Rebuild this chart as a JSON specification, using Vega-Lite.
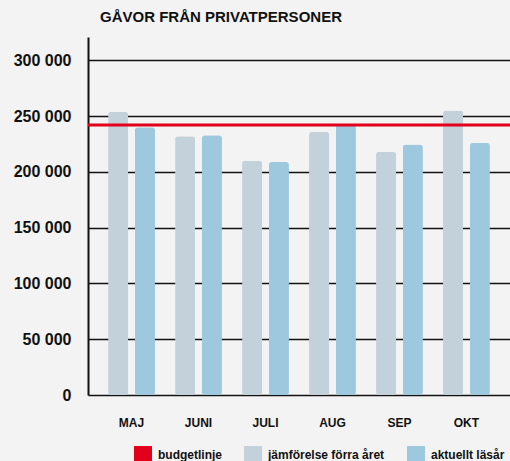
{
  "$schema": "https://vega.github.io/schema/vega-lite/v6.json",
  "width": 422,
  "height": 358,
  "autosize": {"type": "none"},
  "padding": {"left": 88, "top": 37, "right": 0, "bottom": 66},
  "background": "#f3f3f3",
  "title": {
    "text": "GÅVOR FRÅN PRIVATPERSONER",
    "anchor": "start",
    "frame": "group",
    "dx": 12,
    "offset": 12,
    "font": "Liberation Sans",
    "fontSize": 15,
    "fontWeight": "bold",
    "color": "#111111"
  },
  "config": {
    "view": {"stroke": null},
    "locale": {"number": {"decimal": ",", "thousands": " ", "grouping": [3], "currency": ["", " kr"]}},
    "font": "Liberation Sans"
  },
  "datasets": {
    "bars": [
      {"month": "MAJ", "serie": "jämförelse förra året", "value": 254000},
      {"month": "MAJ", "serie": "aktuellt läsår", "value": 240000},
      {"month": "JUNI", "serie": "jämförelse förra året", "value": 232000},
      {"month": "JUNI", "serie": "aktuellt läsår", "value": 233000},
      {"month": "JULI", "serie": "jämförelse förra året", "value": 210000},
      {"month": "JULI", "serie": "aktuellt läsår", "value": 209000},
      {"month": "AUG", "serie": "jämförelse förra året", "value": 236000},
      {"month": "AUG", "serie": "aktuellt läsår", "value": 242500},
      {"month": "SEP", "serie": "jämförelse förra året", "value": 218000},
      {"month": "SEP", "serie": "aktuellt läsår", "value": 224500},
      {"month": "OKT", "serie": "jämförelse förra året", "value": 255000},
      {"month": "OKT", "serie": "aktuellt läsår", "value": 226000}
    ],
    "budget": [{"label": "budgetlinje", "value": 242000}]
  },
  "layer": [
    {
      "data": {"name": "bars"},
      "mark": {"type": "bar", "cornerRadius": 3},
      "encoding": {
        "x": {
          "field": "month",
          "type": "nominal",
          "sort": ["MAJ", "JUNI", "JULI", "AUG", "SEP", "OKT"],
          "scale": {"paddingInner": 0.3, "paddingOuter": 0.3},
          "axis": {
            "title": null,
            "domain": false,
            "ticks": false,
            "labelAngle": 0,
            "labelPadding": 22,
            "labelFont": "Liberation Sans",
            "labelFontSize": 12,
            "labelFontWeight": "bold",
            "labelColor": "#111111"
          }
        },
        "xOffset": {
          "field": "serie",
          "type": "nominal",
          "sort": ["jämförelse förra året", "aktuellt läsår"],
          "scale": {"paddingInner": 0.25}
        },
        "y": {
          "field": "value",
          "type": "quantitative",
          "scale": {"domain": [0, 321000], "nice": false},
          "axis": {
            "title": null,
            "values": [0, 50000, 100000, 150000, 200000, 250000, 300000],
            "format": ",d",
            "ticks": false,
            "domainColor": "#111111",
            "domainWidth": 2,
            "gridColor": "#111111",
            "gridWidth": 1.5,
            "labelPadding": 17,
            "labelFont": "Liberation Sans",
            "labelFontSize": 16,
            "labelFontWeight": "bold",
            "labelColor": "#111111"
          }
        },
        "color": {
          "field": "serie",
          "type": "nominal",
          "scale": {
            "domain": ["budgetlinje", "jämförelse förra året", "aktuellt läsår"],
            "range": ["#e2001a", "#c3d1da", "#9ec8dd"]
          },
          "legend": {
            "title": null,
            "orient": "none",
            "direction": "horizontal",
            "legendX": 46,
            "legendY": 409,
            "symbolType": "square",
            "symbolSize": 324,
            "symbolStrokeWidth": 0,
            "symbolOpacity": 1,
            "labelFont": "Liberation Sans",
            "labelFontSize": 12,
            "labelFontWeight": "bold",
            "labelColor": "#111111",
            "labelOffset": 6,
            "columnPadding": 22
          }
        }
      }
    },
    {
      "data": {"name": "budget"},
      "mark": {"type": "rule", "color": "#e2001a", "strokeWidth": 3},
      "encoding": {
        "y": {"field": "value", "type": "quantitative"}
      }
    }
  ]
}
